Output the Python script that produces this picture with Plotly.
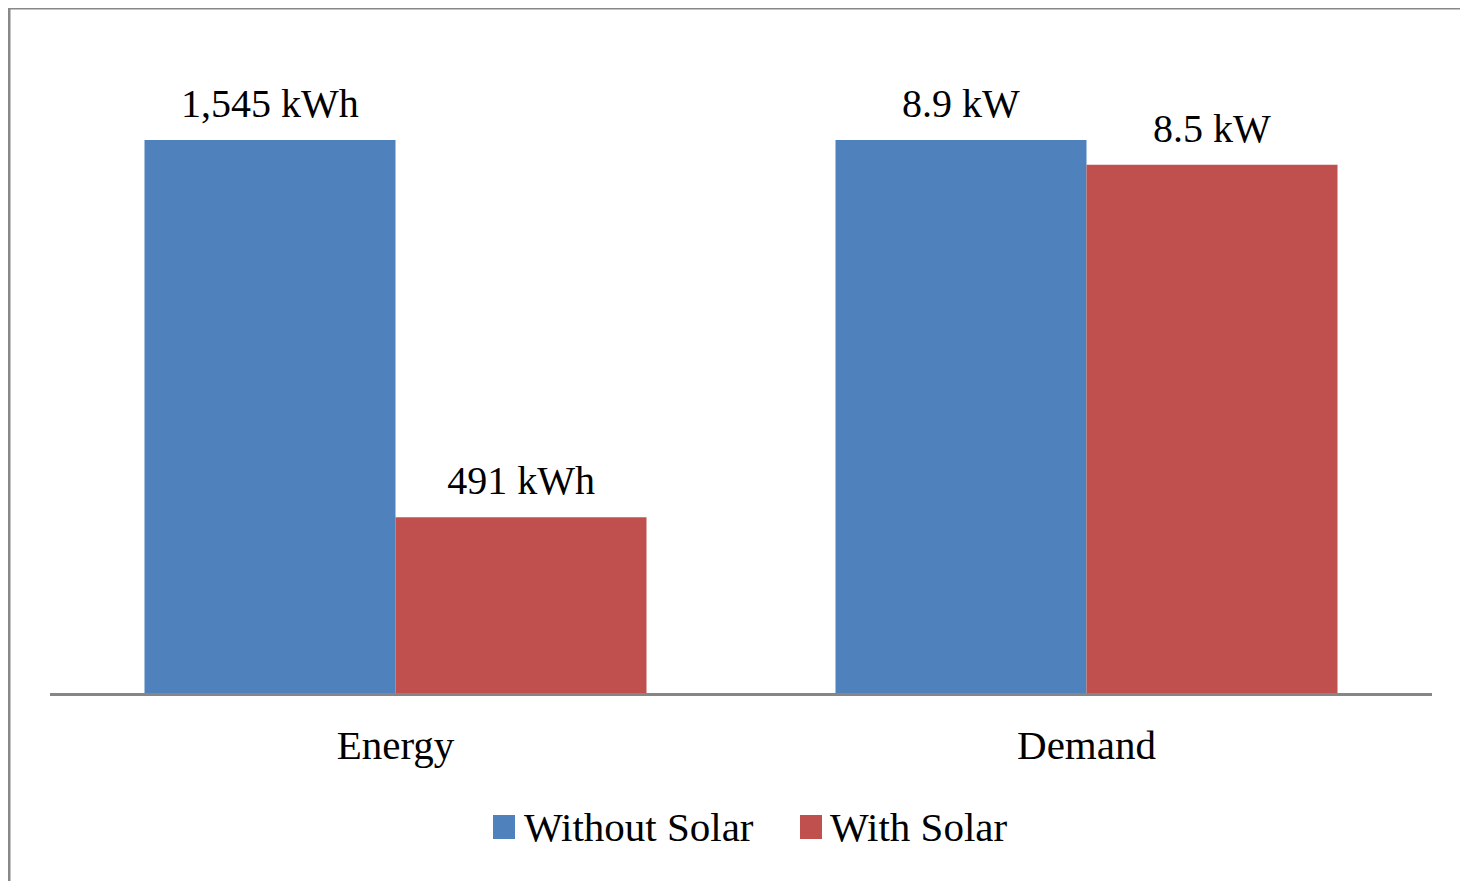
import plotly.graph_objects as go

categories = ["Energy", "Demand"]
series_names = ["Without Solar", "With Solar"]
without_solar = [1545, 8.9]
with_solar = [491, 8.5]
units = ["kWh", "kW"]
colors = ["#4F81BD", "#C0504D"]


def fmt(v, u):
    if v >= 1000:
        return f"{v:,.0f} {u}"
    if float(v).is_integer():
        return f"{v:.0f} {u}"
    return f"{v} {u}"


FONT = "Liberation Serif, Times New Roman, serif"
LABEL_GAP = 0.02  # lift of value labels above the bar tops (axis units)

fig = go.Figure()
for i, (name, vals, col) in enumerate(zip(series_names, [without_solar, with_solar], colors)):
    rel = [v / b for v, b in zip(vals, without_solar)]  # shown relative to "Without Solar"
    grp = f"g{i}"
    fig.add_trace(go.Bar(
        x=categories, y=rel, name=name, offsetgroup=grp,
        marker=dict(color=col, line=dict(width=0)),
        hoverinfo="skip", showlegend=False,
    ))
    # transparent spacer carrying the value labels
    fig.add_trace(go.Bar(
        x=categories, y=[LABEL_GAP] * len(rel), base=rel, offsetgroup=grp,
        marker=dict(color="rgba(0,0,0,0)", line=dict(width=0)),
        text=[fmt(v, u) for v, u in zip(vals, units)],
        textposition="outside", cliponaxis=False,
        textfont=dict(family=FONT, size=40, color="#000000"),
        hoverinfo="skip", showlegend=False,
    ))

W, H = 1460, 873
L, R, T = 42, 36, 21
AXIS_Y = 685
B = H - AXIS_Y
pw, ph = W - L - R, AXIS_Y - T
UNIT_PX = 553  # pixel height of a relative value of 1.0


def px_x(x):
    return (x - L) / pw


def px_y(y):
    return (AXIS_Y - y) / ph


# manual legend (larger swatches than the plotly legend allows)
legend_items = [(series_names[0], colors[0], 485, 514), (series_names[1], colors[1], 792, 820)]
shapes = []
annotations = []
for name, col, sx, tx in legend_items:
    shapes.append(dict(type="rect", xref="paper", yref="paper",
                       x0=px_x(sx), x1=px_x(sx + 22), y0=px_y(831), y1=px_y(807),
                       fillcolor=col, line=dict(width=0)))
    annotations.append(dict(text=name, xref="paper", yref="paper",
                            x=px_x(tx), y=px_y(819), xanchor="left", yanchor="middle",
                            showarrow=False, font=dict(family=FONT, size=41, color="#000000")))

shapes.append(dict(type="rect", xref="paper", yref="paper",
                   x0=px_x(1), x1=px_x(1500), y0=px_y(900), y1=px_y(0),
                   line=dict(color="#888888", width=3), layer="below"))

fig.update_layout(
    width=W, height=H,
    margin=dict(l=L, r=R, t=T, b=B),
    paper_bgcolor="white", plot_bgcolor="white",
    barmode="group", bargap=0.2735, bargroupgap=0,
    font=dict(family=FONT, size=41, color="#000000"),
    xaxis=dict(showline=True, linecolor="#868686", linewidth=3,
               showgrid=False, ticks="", ticklabelstandoff=14,
               tickfont=dict(family=FONT, size=41)),
    yaxis=dict(visible=False, range=[0, ph / UNIT_PX], fixedrange=True),
    showlegend=False,
    shapes=shapes,
    annotations=annotations,
)

fig.write_html("out.html")
